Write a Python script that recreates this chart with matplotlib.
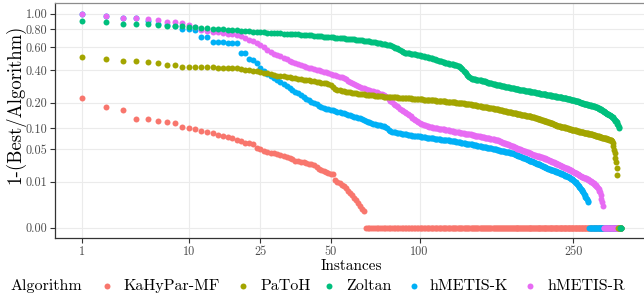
import numpy as np
import matplotlib
matplotlib.use("Agg")
import matplotlib.pyplot as plt
from matplotlib.lines import Line2D
from matplotlib.ticker import FixedLocator, FixedFormatter, NullLocator

plt.rcParams['font.family'] = ['cmr10', 'DejaVu Serif']
plt.rcParams['mathtext.fontset'] = 'cm'
plt.rcParams['axes.unicode_minus'] = False

n_instances = 317

algorithms = ["KaHyPar-MF", "PaToH", "Zoltan", "hMETIS-K", "hMETIS-R"]
colors = ["#F8766D", "#A3A500", "#00BF7D", "#00B0F6", "#E76BF3"]

x_ticks = [1, 10, 25, 50, 100, 250]
y_ticks = [0.0, 0.01, 0.05, 0.10, 0.20, 0.40, 0.60, 0.80, 1.00]
y_tick_labels = ["0.00", "0.01", "0.05", "0.10", "0.20", "0.40", "0.60", "0.80", "1.00"]

# values sorted descending, one per instance (nonzero part); remaining instances are 0
kahypar_mf = [
    0.223, 0.179, 0.167, 0.133, 0.132, 0.125, 0.120, 0.119, 0.106, 0.100,
    0.097, 0.092, 0.089, 0.088, 0.081, 0.079, 0.077, 0.073, 0.070, 0.066,
    0.063, 0.062, 0.061, 0.052, 0.049, 0.047, 0.045, 0.043, 0.042, 0.041,
    0.040, 0.038, 0.036, 0.034, 0.033, 0.031, 0.030, 0.029, 0.029, 0.028,
    0.027, 0.026, 0.025, 0.023, 0.021, 0.020, 0.019, 0.018, 0.017, 0.016,
    0.0155, 0.011, 0.010, 0.0090, 0.0080, 0.0075, 0.0065, 0.0050, 0.0042, 0.0035,
    0.0028, 0.0022, 0.0015, 0.0010, 0.0007, 0.0005]

patoh = [
    0.509, 0.491, 0.472, 0.471, 0.463, 0.457, 0.441, 0.439, 0.428, 0.427,
    0.426, 0.425, 0.424, 0.422, 0.420, 0.419, 0.417, 0.416, 0.414, 0.410,
    0.405, 0.400, 0.396, 0.392, 0.389, 0.382, 0.376, 0.370, 0.365, 0.360,
    0.357, 0.354, 0.350, 0.347, 0.344, 0.341, 0.338, 0.335, 0.332, 0.330,
    0.327, 0.324, 0.321, 0.318, 0.316, 0.313, 0.310, 0.307, 0.303, 0.299,
    0.285, 0.272, 0.268, 0.265, 0.262,
    0.260, 0.258, 0.256, 0.254, 0.252, 0.250, 0.248, 0.246, 0.245, 0.243,
    0.242, 0.241, 0.240, 0.239, 0.238, 0.237, 0.236, 0.235, 0.234, 0.233,
    0.232, 0.231, 0.230, 0.230, 0.229, 0.228, 0.227, 0.227, 0.226, 0.226, 0.225,
    0.224, 0.224, 0.223, 0.223, 0.222, 0.222, 0.221, 0.221, 0.220, 0.220,
    0.219, 0.218, 0.218, 0.217,
    0.216, 0.216, 0.215, 0.215, 0.214, 0.214, 0.213, 0.213, 0.212, 0.211,
    0.211, 0.210, 0.209, 0.209, 0.208, 0.208, 0.207, 0.206, 0.206, 0.205,
    0.204, 0.204, 0.203, 0.203, 0.202, 0.201, 0.201, 0.200, 0.200, 0.199,
    0.199, 0.198, 0.198, 0.197,
    0.196, 0.195, 0.194, 0.193, 0.193, 0.192, 0.191, 0.190, 0.189, 0.188,
    0.187, 0.186, 0.185, 0.184, 0.183, 0.182, 0.181, 0.180, 0.180, 0.179,
    0.178, 0.177, 0.177, 0.176,
    0.175, 0.174, 0.173, 0.172, 0.171, 0.170, 0.169, 0.168, 0.167, 0.166,
    0.165, 0.164, 0.163, 0.162, 0.161, 0.160, 0.159, 0.158, 0.157, 0.157,
    0.156, 0.155,
    0.154, 0.153, 0.153, 0.152, 0.151, 0.150, 0.149, 0.149, 0.148, 0.147,
    0.146, 0.146, 0.145, 0.144, 0.143, 0.143, 0.142, 0.141, 0.141, 0.140,
    0.139, 0.138, 0.137, 0.136, 0.135, 0.134, 0.133, 0.132, 0.131, 0.130,
    0.129, 0.128, 0.127, 0.126, 0.125, 0.124, 0.123, 0.122, 0.121, 0.120,
    0.119, 0.118, 0.117, 0.116, 0.115, 0.114, 0.112, 0.111,
    0.110, 0.109, 0.109, 0.108, 0.107, 0.106, 0.106, 0.105, 0.104, 0.103,
    0.103, 0.102, 0.101, 0.100, 0.100, 0.099, 0.098, 0.098, 0.097, 0.096,
    0.096, 0.095,
    0.095, 0.094, 0.094, 0.093, 0.093, 0.092, 0.092, 0.091, 0.091, 0.090,
    0.090, 0.089, 0.089, 0.088, 0.088, 0.087, 0.087, 0.086, 0.086, 0.085,
    0.085, 0.084, 0.084, 0.083, 0.083, 0.082, 0.082, 0.081, 0.081, 0.080,
    0.079, 0.079, 0.078, 0.078, 0.077,
    0.077, 0.076, 0.076, 0.075, 0.075, 0.074, 0.074, 0.073, 0.073, 0.072,
    0.072, 0.071, 0.071, 0.070, 0.070, 0.069, 0.068, 0.066,
    0.062, 0.055, 0.048, 0.042, 0.035, 0.029, 0.022, 0.015]

zoltan = [
    0.907, 0.887, 0.866, 0.865, 0.861, 0.852, 0.843, 0.840, 0.834, 0.828,
    0.823, 0.818, 0.813, 0.808, 0.803, 0.798, 0.793, 0.789, 0.785, 0.781,
    0.778, 0.775, 0.771, 0.767, 0.763,
    0.761, 0.759, 0.757, 0.755, 0.752,
    0.750, 0.748, 0.746, 0.744, 0.742, 0.740, 0.738, 0.736, 0.734, 0.732,
    0.730, 0.728, 0.725, 0.723, 0.720, 0.718, 0.715, 0.712, 0.709, 0.706,
    0.704, 0.702, 0.700, 0.698, 0.696, 0.694, 0.692, 0.691, 0.689, 0.688,
    0.685, 0.682, 0.679, 0.676, 0.673, 0.670, 0.667, 0.664, 0.661, 0.658,
    0.655, 0.652, 0.649, 0.645, 0.642, 0.639, 0.635, 0.631, 0.628, 0.624,
    0.620, 0.614, 0.607, 0.598, 0.589, 0.580, 0.571, 0.562, 0.554, 0.548,
    0.546, 0.544, 0.541, 0.539, 0.537, 0.534, 0.532, 0.530, 0.527, 0.525,
    0.522, 0.519, 0.516, 0.513, 0.510, 0.507, 0.503, 0.500, 0.497, 0.494,
    0.490, 0.486, 0.482, 0.478, 0.474, 0.470, 0.467, 0.463, 0.459, 0.455,
    0.453, 0.451, 0.449, 0.447, 0.445, 0.443, 0.441, 0.439, 0.436, 0.433,
    0.424, 0.415, 0.406, 0.397, 0.389, 0.378, 0.367, 0.357, 0.348, 0.341,
    0.339, 0.337, 0.335, 0.334, 0.332, 0.331, 0.330, 0.329, 0.327, 0.326,
    0.324, 0.322, 0.320, 0.318, 0.315, 0.313, 0.311, 0.309, 0.307, 0.304,
    0.303, 0.302, 0.300, 0.299, 0.298, 0.296, 0.295, 0.294, 0.292, 0.291,
    0.289, 0.288, 0.287, 0.285, 0.284, 0.283, 0.281, 0.280, 0.278, 0.277,
    0.276, 0.275, 0.274, 0.273, 0.272, 0.271, 0.270, 0.269, 0.268, 0.267,
    0.266, 0.265, 0.264, 0.263, 0.262, 0.261, 0.260, 0.259, 0.257, 0.256,
    0.255, 0.254, 0.253, 0.253, 0.252, 0.251, 0.250, 0.249, 0.248, 0.247,
    0.246, 0.246, 0.245, 0.244, 0.243, 0.242, 0.241, 0.241, 0.240, 0.239,
    0.238, 0.237, 0.236, 0.236, 0.235, 0.234, 0.233, 0.232, 0.231, 0.230,
    0.229, 0.229, 0.228, 0.227, 0.226, 0.225, 0.224, 0.224, 0.223, 0.222,
    0.221, 0.220, 0.219, 0.218, 0.217, 0.216, 0.215, 0.214, 0.213, 0.212,
    0.211, 0.210, 0.209, 0.208, 0.207, 0.206, 0.205, 0.203, 0.202, 0.200,
    0.199, 0.198, 0.197, 0.196, 0.195, 0.194, 0.193, 0.192, 0.191, 0.190,
    0.189, 0.188, 0.187, 0.186, 0.185, 0.184, 0.184, 0.183, 0.182, 0.181,
    0.180, 0.178, 0.177, 0.175, 0.173, 0.171, 0.169, 0.167, 0.165, 0.163,
    0.161, 0.159, 0.157, 0.156, 0.154, 0.152, 0.151, 0.149, 0.148, 0.146,
    0.144, 0.142, 0.140, 0.137, 0.135, 0.132, 0.129, 0.126, 0.123, 0.120,
    0.115, 0.111, 0.106, 0.100]

hmetis_k = [
    0.994, 0.975, 0.948, 0.940, 0.900, 0.870, 0.855, 0.840, 0.800, 0.800, 0.795,
    0.713, 0.710, 0.660, 0.655, 0.652, 0.648, 0.645, 0.640,
    0.548, 0.545,
    0.490, 0.480, 0.455, 0.420, 0.390, 0.375, 0.360, 0.345, 0.330,
    0.318, 0.305, 0.292, 0.280, 0.268, 0.257, 0.248, 0.238, 0.228, 0.219,
    0.211, 0.205, 0.198, 0.192, 0.186, 0.181, 0.177, 0.173, 0.170, 0.167,
    0.165, 0.162, 0.160, 0.158, 0.156, 0.153, 0.150, 0.148, 0.145, 0.143,
    0.140, 0.138, 0.136, 0.134, 0.131, 0.128, 0.125, 0.122, 0.120, 0.117,
    0.115, 0.113, 0.112, 0.111, 0.110, 0.109, 0.108, 0.106, 0.100, 0.095,
    0.092, 0.091, 0.090, 0.089, 0.088, 0.087, 0.086, 0.085, 0.085, 0.084,
    0.083, 0.082, 0.082, 0.081, 0.080, 0.080, 0.079, 0.079, 0.078, 0.078,
    0.077, 0.077, 0.076, 0.076, 0.075, 0.075, 0.074, 0.074, 0.073, 0.073,
    0.072, 0.072, 0.071, 0.071, 0.071, 0.070, 0.070, 0.070, 0.069, 0.069,
    0.068, 0.068, 0.067, 0.067, 0.067, 0.066, 0.066, 0.065, 0.065, 0.064,
    0.064, 0.063, 0.063, 0.062, 0.062, 0.061, 0.061, 0.060, 0.060, 0.059,
    0.059, 0.058, 0.058, 0.057, 0.057, 0.056, 0.056, 0.055, 0.055, 0.054,
    0.054, 0.053, 0.053, 0.053, 0.052, 0.052, 0.051, 0.051, 0.051, 0.050,
    0.050, 0.049, 0.049, 0.048, 0.048, 0.048, 0.047, 0.047, 0.046, 0.046,
    0.046, 0.045, 0.045, 0.044, 0.044, 0.044, 0.043, 0.043, 0.042, 0.042,
    0.041, 0.041, 0.040, 0.040, 0.039, 0.038, 0.038, 0.037, 0.036, 0.036,
    0.035, 0.035, 0.034, 0.033, 0.033, 0.032, 0.032, 0.031, 0.031, 0.030,
    0.030, 0.029, 0.029, 0.028, 0.028, 0.027, 0.027, 0.026, 0.026, 0.025,
    0.025, 0.024, 0.024, 0.023, 0.023, 0.023, 0.022, 0.022, 0.021, 0.021,
    0.021, 0.020, 0.020, 0.020, 0.0195,
    0.019, 0.019, 0.0185, 0.018, 0.018, 0.0175, 0.017, 0.017, 0.0165, 0.016,
    0.016, 0.0155, 0.015, 0.015, 0.0145, 0.014, 0.014, 0.0135, 0.013, 0.013,
    0.0125, 0.012, 0.012, 0.0115, 0.011,
    0.0105, 0.010, 0.0095, 0.009, 0.0085, 0.008, 0.0075, 0.007, 0.0065, 0.006,
    0.0055, 0.005, 0.0045, 0.004, 0.0035, 0.003, 0.0027, 0.0023, 0.002, 0.0017]

hmetis_r = [
    0.994, 0.975, 0.948, 0.948, 0.926, 0.917, 0.894, 0.886, 0.874, 0.852,
    0.825, 0.790, 0.777, 0.768, 0.762, 0.756, 0.749, 0.741, 0.732, 0.720,
    0.700, 0.680, 0.665, 0.645, 0.625, 0.600, 0.575, 0.555, 0.540, 0.527,
    0.515, 0.503, 0.490, 0.478, 0.466, 0.455, 0.447, 0.440, 0.432, 0.425,
    0.419, 0.414, 0.408, 0.403, 0.398, 0.393, 0.388, 0.383, 0.378, 0.372,
    0.366, 0.362, 0.357, 0.352,
    0.348, 0.343, 0.335, 0.325, 0.318, 0.310, 0.304, 0.298, 0.292, 0.286,
    0.280, 0.276, 0.272, 0.268, 0.265, 0.262, 0.259, 0.256, 0.253, 0.250,
    0.247, 0.243, 0.238, 0.233, 0.226, 0.218, 0.210, 0.203, 0.196, 0.190,
    0.184, 0.178, 0.172, 0.166, 0.161, 0.157, 0.153, 0.149, 0.145, 0.141,
    0.136, 0.131, 0.127, 0.123, 0.120, 0.117,
    0.115, 0.113, 0.111, 0.110, 0.108, 0.107, 0.105,
    0.104, 0.103, 0.102, 0.102, 0.101, 0.100, 0.099, 0.099, 0.098, 0.097,
    0.097, 0.096, 0.095, 0.095, 0.094, 0.093, 0.093, 0.092, 0.091, 0.091,
    0.090, 0.089, 0.089, 0.088, 0.087, 0.087, 0.086,
    0.085, 0.085, 0.084, 0.084, 0.083, 0.083, 0.082, 0.081, 0.081, 0.080,
    0.080, 0.079, 0.079, 0.078, 0.077, 0.077, 0.076, 0.076, 0.075, 0.075,
    0.074, 0.073, 0.073, 0.072, 0.072, 0.071, 0.071, 0.070, 0.070, 0.069,
    0.068, 0.067, 0.066, 0.065, 0.064, 0.063, 0.063, 0.062, 0.061, 0.060,
    0.059, 0.058, 0.057, 0.056, 0.055, 0.055, 0.054, 0.053, 0.052, 0.051,
    0.0505, 0.050, 0.0495, 0.049, 0.048, 0.0475, 0.047, 0.046, 0.0455, 0.045,
    0.0445, 0.044, 0.043, 0.0425, 0.042, 0.041, 0.0405, 0.040, 0.0395, 0.039,
    0.0385, 0.038, 0.0375, 0.037, 0.0368, 0.0366,
    0.036, 0.0355, 0.035, 0.0345, 0.034, 0.0335, 0.033, 0.0325, 0.032, 0.0315,
    0.031, 0.0305, 0.030, 0.0295, 0.029, 0.0285, 0.028, 0.0275, 0.027, 0.0265,
    0.026, 0.0255, 0.025, 0.0245, 0.024, 0.0235, 0.023, 0.0225, 0.022, 0.0218,
    0.0216, 0.0214,
    0.021, 0.0205, 0.020, 0.0196, 0.0192, 0.0188, 0.0184, 0.018, 0.0176, 0.0172,
    0.0168, 0.0164, 0.016, 0.0156, 0.0152, 0.0148, 0.0144, 0.014, 0.0137, 0.0134,
    0.0131, 0.0128, 0.0126, 0.0124, 0.0123,
    0.012, 0.0117, 0.0114, 0.011, 0.0107, 0.0104, 0.010, 0.0097, 0.0094, 0.009,
    0.0086, 0.0082, 0.0078, 0.0074, 0.0070, 0.0066, 0.006, 0.0052, 0.0045, 0.0035,
    0.0025, 0.0018, 0.001]

series = {
    "KaHyPar-MF": kahypar_mf,
    "PaToH": patoh,
    "Zoltan": zoltan,
    "hMETIS-K": hmetis_k,
    "hMETIS-R": hmetis_r,
}

def full(vals):
    v = list(vals) + [0.0] * (n_instances - len(vals))
    return np.array(v[:n_instances])

W, H = 644, 299
fig = plt.figure(figsize=(W / 100, H / 100), dpi=100)

# panel in pixel coordinates
px_left, px_right, px_top, px_bottom = 55.0, 648.3, 3.2, 238.4
ax = fig.add_axes([px_left / W, 1 - px_bottom / H,
                   (px_right - px_left) / W, (px_bottom - px_top) / H])

cbrt = (lambda v: np.cbrt(v), lambda v: np.power(v, 3))
ax.set_xscale('function', functions=cbrt)
ax.set_yscale('function', functions=cbrt)

tmax = np.cbrt(n_instances)
pad = 0.05 * (tmax - 1)
ax.set_xlim((1 - pad) ** 3, (tmax + pad) ** 3)
ax.set_ylim((-0.05) ** 3, 1.05 ** 3)

ranks = np.arange(1, n_instances + 1)
draw_order = ["KaHyPar-MF", "hMETIS-K", "hMETIS-R", "PaToH", "Zoltan"]
for i, name in enumerate(draw_order):
    c = colors[algorithms.index(name)]
    ax.plot(ranks, full(series[name]), linestyle='none', marker='o',
            markersize=4.3, markeredgewidth=0, color=c, zorder=3 + i,
            clip_on=False)

ax.xaxis.set_major_locator(FixedLocator(x_ticks))
ax.xaxis.set_major_formatter(FixedFormatter([str(t) for t in x_ticks]))
ax.yaxis.set_major_locator(FixedLocator(y_ticks))
ax.yaxis.set_major_formatter(FixedFormatter(y_tick_labels))
ax.xaxis.set_minor_locator(NullLocator())
ax.yaxis.set_minor_locator(NullLocator())

ax.grid(True, color='#EBEBEB', linewidth=0.8, zorder=0)
ax.set_axisbelow(True)
for s in ['left', 'bottom']:
    ax.spines[s].set_color('#333333')
    ax.spines[s].set_linewidth(0.9)
ax.spines['top'].set_color('#8C8C8C')
ax.spines['top'].set_linewidth(0.9)
ax.spines['right'].set_visible(False)
ax.tick_params(axis='both', colors='#333333', length=3.5, width=0.8,
               labelcolor='#4D4D4D', labelsize=8.8, pad=2)

fig.text(15 / W, 1 - 104 / H, "1-(Best/Algorithm)", rotation=90,
         ha='center', va='center', fontsize=13.5)
fig.text(351 / W, 1 - 266 / H, "Instances", ha='center', va='center',
         fontsize=11)

# legend, laid out in figure pixels
leg_y = 1 - 286 / H
fig.text(10 / W, leg_y, "Algorithm", ha='left', va='center', fontsize=11.5)
dot_x = [107, 243, 329, 414, 530]
text_x = [124, 261, 346, 430, 547]
for name, c, dx, tx in zip(algorithms, colors, dot_x, text_x):
    fig.add_artist(Line2D([dx / W], [leg_y], linestyle='none', marker='o',
                          markersize=4.3, markeredgewidth=0, color=c,
                          transform=fig.transFigure))
    fig.text(tx / W, leg_y, name, ha='left', va='center', fontsize=11.5)

fig.savefig("out.png", dpi=100)
